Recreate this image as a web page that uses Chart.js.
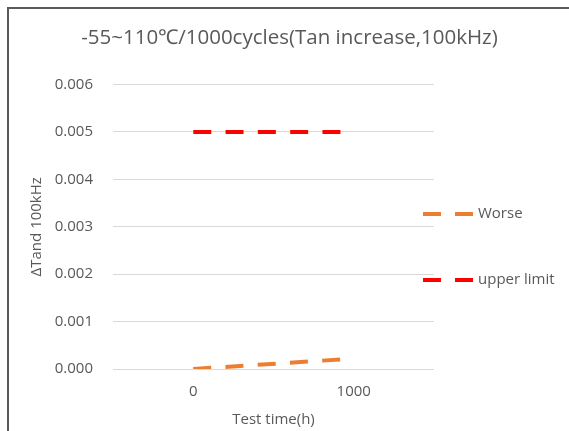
<!DOCTYPE html>
<html>
<head>
<meta charset="utf-8">
<script src="https://cdn.jsdelivr.net/npm/chart.js@4"></script>
<style>
  html, body { margin: 0; padding: 0; background: #ffffff; overflow: hidden; }
  canvas { display: block; }
</style>
</head>
<body>
<canvas id="c" width="569" height="431"></canvas>
<script>
const categories = ['0', '1000'];
const worse = [0, 0.00022];
const upperLimit = [0.005, 0.005];
const seriesNames = ['Worse', 'upper limit'];
const titleText = '-55~110℃/1000cycles(Tan increase,100kHz)';
const yTitle = 'ΔTand 100kHz';
const xTitle = 'Test time(h)';

const textColor = '#595959';
const fontFamily = '"Open Sans", "Liberation Sans", sans-serif';

const framePlugin = {
  id: 'frame',
  beforeDraw(chart) {
    const ctx = chart.ctx;
    ctx.save();
    ctx.fillStyle = '#ffffff';
    ctx.fillRect(0, 0, chart.width, chart.height);
    ctx.strokeStyle = '#5a5a5a';
    ctx.lineWidth = 2;
    ctx.beginPath();
    ctx.moveTo(8, chart.height + 5);
    ctx.lineTo(8, 8);
    ctx.lineTo(chart.width + 5, 8);
    ctx.stroke();
    ctx.restore();
  }
};

const legendPlugin = {
  id: 'sideLegend',
  afterDraw(chart) {
    const ctx = chart.ctx;
    const pos = [{x: 423, y: 214}, {x: 423, y: 280}];
    chart.data.datasets.forEach((ds, i) => {
      const p = pos[i];
      ctx.save();
      ctx.strokeStyle = ds.borderColor;
      ctx.lineWidth = ds.borderWidth;
      ctx.setLineDash([18, 14]);
      ctx.lineCap = 'butt';
      ctx.beginPath();
      ctx.moveTo(p.x, p.y);
      ctx.lineTo(p.x + 50, p.y);
      ctx.stroke();
      ctx.setLineDash([]);
      ctx.fillStyle = textColor;
      ctx.font = '15px ' + fontFamily;
      ctx.textBaseline = 'middle';
      ctx.fillText(ds.label, p.x + 55, p.y);
      ctx.restore();
    });
  }
};

new Chart(document.getElementById('c'), {
  type: 'line',
  data: {
    labels: categories,
    datasets: [
      { label: seriesNames[0], data: worse, borderColor: '#ED7D31', backgroundColor: '#ED7D31',
        borderWidth: 4, borderDash: [18, 14.3], pointRadius: 0, fill: false, tension: 0 },
      { label: seriesNames[1], data: upperLimit, borderColor: '#FF0000', backgroundColor: '#FF0000',
        borderWidth: 4, borderDash: [18, 14.3], pointRadius: 0, fill: false, tension: 0 }
    ]
  },
  plugins: [framePlugin, legendPlugin],
  options: {
    responsive: false,
    animation: false,
    devicePixelRatio: 1,
    layout: { padding: { left: 19, right: 9, top: 13, bottom: 0 } },
    plugins: {
      legend: { display: false },
      tooltip: { enabled: false },
      title: {
        display: true, text: titleText, color: textColor,
        font: { family: fontFamily, size: 20.5, weight: 'normal' },
        padding: { top: 13, bottom: 34 }
      }
    },
    scales: {
      x: {
        offset: true,
        grid: { display: false, drawTicks: false },
        border: { display: false },
        ticks: { color: textColor, font: { family: fontFamily, size: 15 }, padding: 14, maxRotation: 0 },
        title: { display: true, text: xTitle, color: textColor,
                 font: { family: fontFamily, size: 15 }, padding: { top: 0, bottom: 2 } },
        afterFit(scale) { scale.height = 62; }
      },
      y: {
        min: 0, max: 0.006,
        grid: { color: '#d9d9d9', lineWidth: 1, drawTicks: false },
        border: { display: false },
        ticks: { stepSize: 0.001, color: textColor, font: { family: fontFamily, size: 15 }, padding: 20,
                 callback: v => Number(v).toFixed(3) },
        title: { display: true, text: yTitle, color: textColor,
                 font: { family: fontFamily, size: 15 }, padding: { top: 9, bottom: 0 } },
        afterFit(scale) { scale.width = 94; }
      },
      yRight: {
        position: 'right',
        display: true,
        grid: { display: false, drawTicks: false },
        border: { display: false },
        ticks: { display: false },
        afterFit(scale) { scale.width = 126; }
      }
    }
  }
});
</script>
</body>
</html>
